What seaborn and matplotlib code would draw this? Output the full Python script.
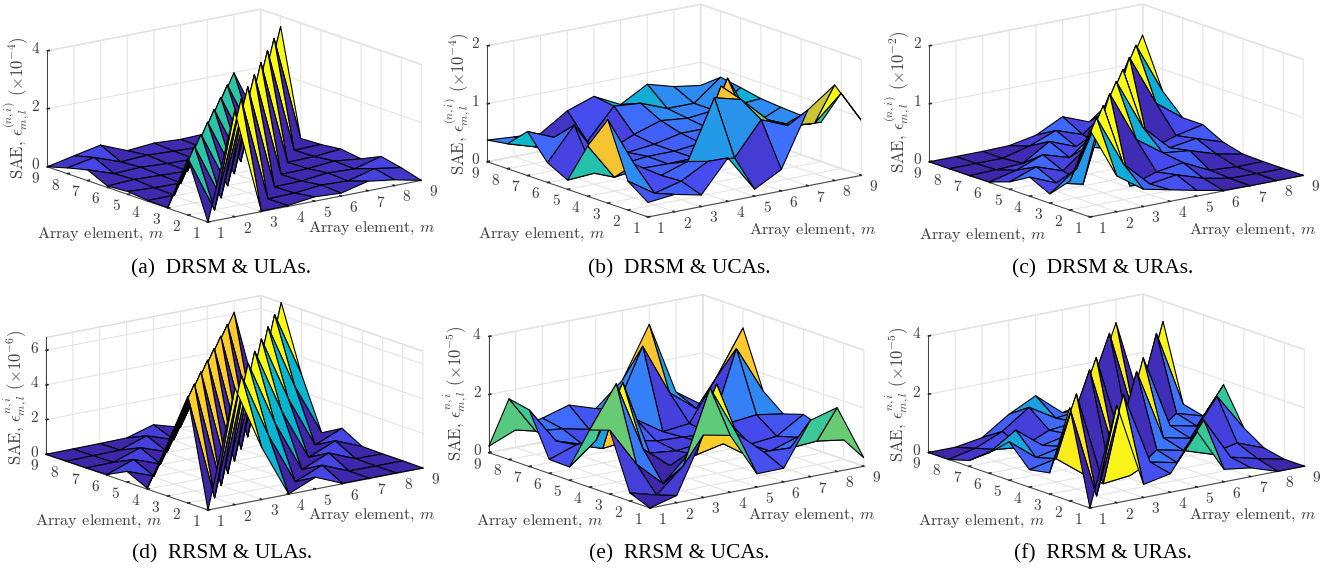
#%% LIB
import numpy as np
import matplotlib
matplotlib.use("Agg")
import matplotlib.pyplot as plt
import seaborn as sns
from mpl_toolkits.mplot3d import proj3d

#%% DATA
# rows: right hand axis element (1..9), columns: left hand axis element (1..9)
elements = [1, 2, 3, 4, 5, 6, 7, 8, 9]

sae_drsm_ula = [
    [0, 1.95, .02, .03, .1, .05, .37, .2, 0],
    [3.65, 0, 1.95, .03, .05, .1, .06, .38, .2],
    [.02, 3.65, 0, 1.95, .03, .06, .1, .05, .39],
    [.03, .02, 3.65, 0, 1.95, .03, .05, .1, .02],
    [.15, .04, .02, 3.65, 0, 1.97, .03, .06, .1],
    [.1, .14, .04, .03, 3.65, 0, 1.97, .03, .05],
    [.33, .1, .14, .05, .03, 3.65, 0, 1.98, .08],
    [.2, .35, .1, .13, .05, .03, 3.65, 0, 1.99],
    [0, .2, .35, .03, .13, .05, .02, 3.64, 0],
]
sae_drsm_uca = [
    [.25, .5, 1.44, .87, .16, .34, .76, .43, .375],
    [.3, .2, .58, .24, .19, .9, .57, .29, .34],
    [.2, .32, .3, .3, .25, .2, .3, .08, .31],
    [.75, .57, .45, .29, .3, .25, .15, .2, .61],
    [.12, .54, 1.46, .3, .3, .3, .35, .72, .77],
    [.37, 1.11, 1.34, 1.45, .35, .4, .5, .68, .54],
    [1.31, .92, .9, .7, 1.38, .4, .45, .5, .8],
    [1.65, .87, .71, .5, .5, .7, .5, .5, .67],
    [.95, 1.3, .68, .68, .7, .73, .8, .86, .6],
]
sae_drsm_ura = [
    [1.5, .5, .16, .33, .13, .01, 0, 0, 0],
    [.62, 1.5, .5, .14, .3, .12, .01, 0, 0],
    [.3, .62, 1.5, .03, .14, .3, .03, 0, 0],
    [.2, .18, .03, 1.5, .5, .16, .32, .12, .01],
    [.1, .25, .18, .62, 1.5, .5, .14, .3, .1],
    [.01, .1, .25, .3, .62, 1.5, .03, .14, .33],
    [0, .01, .03, .25, .18, .03, 1.5, .5, .15],
    [0, 0, 0, .1, .25, .18, .62, 1.5, .5],
    [0, 0, 0, .01, .1, .28, .28, .62, 1.47],
]
sae_rrsm_ula = [
    [0, 6.15, 3.0, .05, .62, .04, .02, .01, 0],
    [6.74, 0, 6.15, 3.0, .05, .6, .04, .02, .01],
    [3.0, 6.74, 0, 6.15, 3.0, .04, .58, .04, .02],
    [.02, 3.0, 6.74, 0, 6.12, 3.0, .04, .56, .04],
    [.68, .02, 3.0, 6.74, 0, 6.1, 3.0, .04, .5],
    [.03, .67, .02, 3.0, 6.74, 0, 6.1, 3.0, .05],
    [.02, .04, .67, .02, 3.0, 6.74, 0, 6.08, 3.0],
    [.02, .02, .04, .67, .03, 3.0, 6.74, 0, 6.08],
    [0, .02, .02, .04, .69, .03, 3.0, 6.74, 0],
]
sae_rrsm_uca = [
    [0, .28, 2.2, 1.97, .46, .48, 1.95, 2.09, .22],
    [.25, .03, .85, 3.38, 1.2, .8, .7, .8, .6],
    [2.15, .85, 0, .96, 3.0, .5, .4, .7, .83],
    [1.96, 3.35, .9, .2, .4, .6, .4, .5, 1.1],
    [.46, 1.6, 3.07, .4, .3, .4, .9, 1.0, .8],
    [.47, .8, .5, .6, .4, .35, .3, 3.0, 1.6],
    [1.94, .75, .4, .4, .9, .3, .4, 1.23, 3.34],
    [2.2, .81, .7, .5, 1.0, 3.04, 1.8, .5, .83],
    [.29, .67, .83, 1.07, .85, 1.4, 3.33, 1.05, .2],
]
sae_rrsm_ura = [
    [0, 3.2, .73, .6, 1.32, .7, .2, 0, 0],
    [3.35, 0, 3.25, .8, .6, 1.3, .4, .2, 0],
    [.45, 3.3, 0, .1, .8, .6, .3, .6, .15],
    [.64, .8, .1, 0, 3.25, .8, .7, 1.25, .77],
    [1.9, .6, .8, 3.25, 0, 3.25, .8, .7, 1.23],
    [.43, 1.88, .6, .8, 3.3, 0, .1, .8, .47],
    [.3, .43, .3, .6, .8, .1, 0, 3.25, .7],
    [0, .2, .5, 1.86, .6, .8, 3.3, 0, 3.2],
    [0, 0, .15, .6, 1.84, .53, .7, 3.3, 0],
]

captions = ["(a)  DRSM & ULAs.", "(b)  DRSM & UCAs.", "(c)  DRSM & URAs.",
            "(d)  RRSM & ULAs.", "(e)  RRSM & UCAs.", "(f)  RRSM & URAs."]
exponents = [-4, -4, -2, -6, -5, -5]
z_tops = [4, 2, 2, 6.74, 4, 4]
z_ticks = [[0, 2, 4], [0, 1, 2], [0, 1, 2], [0, 2, 4, 6], [0, 2, 4], [0, 2, 4]]
symbols = [r"\epsilon_{m,l}^{(n,i)}"] * 3 + [r"\epsilon_{m,l}^{n,i}"] * 3

#%% CONFIG
W, H = 1340, 571
INK = "#404040"
sns.set_theme(style="white")
plt.rcParams["font.family"] = ["cmr10", "DejaVu Serif"]
plt.rcParams["mathtext.fontset"] = "cm"
plt.rcParams["axes.formatter.use_mathtext"] = True
plt.rcParams["axes.unicode_minus"] = False

parula = sns.blend_palette(
    ["#3e26a8", "#4748eb", "#3e6fff", "#2796eb", "#08b5d0",
     "#31c69f", "#71cb6b", "#c4c53a", "#fdc42e", "#f9fb15"],
    n_colors=256, as_cmap=True)

# pixel layout: near floor corner, horizontal span, label and caption centres
near_corner = [(208, 222), (648, 217), (1090, 217), (208, 510), (650, 508), (1090, 508)]
spans = [374, 374, 374, 377, 375, 376]
left_label = [(101, 234), (542, 234), (983, 235), (99, 521), (540, 521), (982, 521)]
right_label = [(372, 228), (813, 230), (1253, 230), (372, 515), (812, 515), (1253, 515)]
z_label = [(17, 108), (458, 104), (898, 102), (15, 397), (455, 393), (897, 394)]
caption_pos = [(221, 269), (679, 269), (1103, 269), (222, 554), (679, 554), (1103, 554)]


def px(p):
    return p[0] / W, 1 - p[1] / H


def project(ax, x, y, z=0):
    xp, yp, _ = proj3d.proj_transform(x, y, z, ax.get_proj())
    return ax.transData.transform((xp, yp))


def tick_text(ax, x, y, z, dx, dy, label):
    # tick label stays real text, placed from the axes' own projection
    cx, cy = project(ax, x, y, z)
    fig.text((cx + dx) / W, (cy - dy) / H, label, fontsize=11, color=INK,
             ha="center", va="center")


def place(ax, near, span):
    # size the square axes so the floor spans the wanted width, then move the corner
    s = 400
    ax.set_position([0, 0, s / W, s / H])
    fig.canvas.draw()
    width = project(ax, 9, 1)[0] - project(ax, 1, 9)[0]
    s = s * span / width
    ax.set_position([0, 0, s / W, s / H])
    fig.canvas.draw()
    cx, cy = project(ax, 1, 1)
    ax.set_position([(near[0] - cx) / W, (H - near[1] - cy) / H, s / W, s / H])
    fig.canvas.draw()


#%% PLOT
fig = plt.figure(figsize=(W / 100, H / 100), dpi=100)
matrices = [sae_drsm_ula, sae_drsm_uca, sae_drsm_ura,
            sae_rrsm_ula, sae_rrsm_uca, sae_rrsm_ura]

for i, values in enumerate(matrices):
    Z = np.array(values, dtype=float)
    X, Y = np.meshgrid(elements, elements, indexing="ij")
    ax = fig.add_subplot(projection="3d", proj_type="ortho")
    ax.patch.set_alpha(0)
    ax.view_init(elev=15, azim=-127)
    ax.set_box_aspect((267, 267, 120))
    ax.plot_surface(X, Y, Z, rstride=1, cstride=1, facecolors=parula(Z / Z.max()),
                    shade=False, edgecolor="black", linewidth=0.8)
    ax.set_xlim(1, 9, view_margin=0)
    ax.set_ylim(1, 9, view_margin=0)
    ax.set_zlim(0, z_tops[i], view_margin=0)
    ax.set_xticks(elements)
    ax.set_yticks(elements)
    ax.set_zticks(z_ticks[i])
    ax.set_xticklabels([])
    ax.set_yticklabels([])
    ax.set_zticklabels([])
    for axis in (ax.xaxis, ax.yaxis, ax.zaxis):
        axis.set_pane_color("white")
        axis.pane.set_edgecolor("#dddddd")
        axis.line.set_color(INK)
        axis.line.set_linewidth(0.7)
        axis._axinfo["grid"].update(color="#e4e4e4", linewidth=0.8)
        axis._axinfo["tick"].update(inward_factor=0.0, outward_factor=0.12)
    place(ax, near_corner[i], spans[i])

    for e in elements:
        tick_text(ax, e, 1, 0, 12, 12, str(e))
        tick_text(ax, 1, e, 0, -12, 12, str(e))
    for t in z_ticks[i]:
        tick_text(ax, 1, 9, t, -12, -1.5, str(t))

    fig.text(*px(left_label[i]), r"Array element, $m$", fontsize=11.7, color=INK,
             ha="center", va="center")
    fig.text(*px(right_label[i]), r"Array element, $m$", fontsize=11.7, color=INK,
             ha="center", va="center")
    fig.text(*px(z_label[i]), rf"SAE, ${symbols[i]}$ $(\times 10^{{{exponents[i]}}})$",
             fontsize=12, color=INK, rotation=90, ha="center", va="center")
    fig.text(*px(caption_pos[i]), captions[i], fontsize=15.4, color="black",
             family="Liberation Serif", ha="center", va="center")

fig.savefig("out.png", dpi=100)
